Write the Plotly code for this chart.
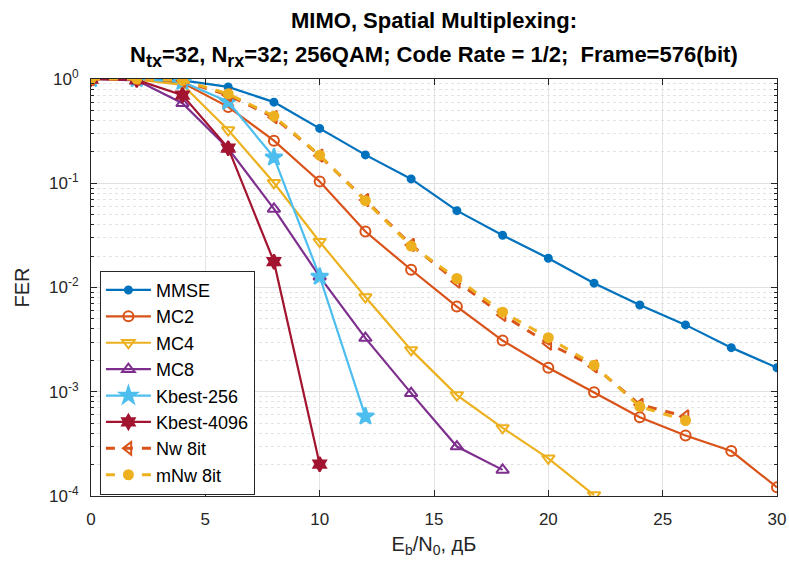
import plotly.graph_objects as go

# Eb/N0 grid, dB
snr = [0, 2, 4, 6, 8, 10, 12, 14, 16, 18, 20, 22, 24, 26, 28, 30]

fer_mmse = [1.0, 1.0, 0.97, 0.84, 0.60, 0.336, 0.187, 0.11, 0.0546, 0.0317,
            0.0191, 0.011, 0.0068, 0.00438, 0.00265, 0.0017]
fer_mc2 = [1.0, 0.99, 0.92, 0.54, 0.256, 0.104, 0.0344, 0.0148, 0.00656, 0.0031,
           0.0017, 0.00099, 0.00057, 0.00038, 0.00027, 0.000121]
fer_mc4 = [1.0, 0.99, 0.88, 0.324, 0.101, 0.0275, 0.0081, 0.00252, 0.00093,
           0.00045, 0.00023, 0.000102]
fer_mc8 = [1.0, 0.97, 0.585, 0.216, 0.0567, 0.0127, 0.00327, 0.00097, 0.000298,
           0.000178]
fer_kbest256 = [1.0, 1.0, 0.94, 0.605, 0.177, 0.0127, 0.00058]
fer_kbest4096 = [1.0, 0.98, 0.70, 0.217, 0.0177, 0.000202]
fer_nw = [1.0, 1.0, 0.96, 0.70, 0.43, 0.184, 0.069, 0.0256, 0.0114, 0.00546,
          0.0029, 0.00175, 0.00075, 0.00058]
fer_mnw = [1.0, 1.0, 0.97, 0.72, 0.44, 0.186, 0.068, 0.025, 0.0122, 0.0058,
           0.0033, 0.0018, 0.00072, 0.00053]

y_tickvals = [1e-4, 1e-3, 1e-2, 1e-1, 1]
y_ticktext = ["10<sup>-4</sup>", "10<sup>-3</sup>", "10<sup>-2</sup>",
              "10<sup>-1</sup>", "10<sup>0</sup>"]
x_tickvals = [0, 5, 10, 15, 20, 25, 30]


def sub(s):
    return '<sub><span style="font-size:18px">' + s + "</span></sub>"


title_line1 = "<b>MIMO, Spatial Multiplexing:</b>"
title_line2 = ("<b>N" + sub("tx") + "=32, N" + sub("rx") + "=32; 256QAM; "
               "Code Rate = 1/2;  Frame=576(bit)</b>")

series = [
    ("MMSE", fer_mmse, "#0072BD", "circle", 7, "solid"),
    ("MC2", fer_mc2, "#D95319", "circle-open", 10, "solid"),
    ("MC4", fer_mc4, "#EDB120", "triangle-down-open", 11, "solid"),
    ("MC8", fer_mc8, "#7E2F8E", "triangle-up-open", 11, "solid"),
    ("Kbest-256", fer_kbest256, "#4DBEEE", "star", 13, "solid"),
    ("Kbest-4096", fer_kbest4096, "#A2142F", "hexagram", 11, "solid"),
    ("Nw 8it", fer_nw, "#D95319", "triangle-left-open", 11, "dash"),
    ("mNw 8it", fer_mnw, "#EDB120", "circle", 9, "dash"),
]

fig = go.Figure()
for name, vals, color, symbol, size, dash in series:
    fig.add_trace(go.Scatter(
        x=snr[:len(vals)], y=vals, name=name, mode="lines+markers",
        line=dict(color=color, width=2.2 if dash == "solid" else 3, dash=dash),
        marker=dict(symbol=symbol, size=size, color=color,
                    line=dict(color=color, width=2)),
    ))

minor_vals = [m * 10 ** e for e in range(-4, 0) for m in range(2, 10)]

fig.add_annotation(text=title_line1, xref="paper", yref="paper",
                   x=0.5, y=1.140, xanchor="center", yanchor="middle",
                   showarrow=False, font=dict(size=22, color="black"))
fig.add_annotation(text=title_line2, xref="paper", yref="paper",
                   x=0.5, y=1.055, xanchor="center", yanchor="middle",
                   showarrow=False, font=dict(size=22, color="black"))

fig.update_layout(
    width=789, height=569,
    margin=dict(l=91, r=12, t=79, b=73, autoexpand=False),
    paper_bgcolor="white", plot_bgcolor="white",
    font=dict(family="Liberation Sans, Arial, sans-serif", color="#262626"),
    xaxis=dict(
        range=[0, 30], tickvals=x_tickvals, automargin=False,
        title=dict(text="E<sub>b</sub>/N<sub>0</sub>, дБ", font=dict(size=20), standoff=8),
        tickfont=dict(size=17), ticklabelstandoff=8,
        showline=True, linecolor="#262626", linewidth=1, mirror="ticks",
        ticks="inside", ticklen=6, tickcolor="#262626",
        showgrid=True, gridcolor="#E3E3E3", gridwidth=1, zeroline=False,
    ),
    yaxis=dict(
        type="log", range=[-4, 0], tickvals=y_tickvals, ticktext=y_ticktext,
        automargin=False,
        title=dict(text="FER", font=dict(size=20), standoff=14),
        tickfont=dict(size=17), ticklabelstandoff=8,
        showline=True, linecolor="#262626", linewidth=1, mirror="ticks",
        ticks="inside", ticklen=6, tickcolor="#262626",
        showgrid=True, gridcolor="#E0E0E0", gridwidth=1, zeroline=False,
        minor=dict(tickvals=minor_vals, ticks="inside", ticklen=3,
                   tickcolor="#262626", showgrid=True, gridcolor="#E3E3E3",
                   griddash="dot", gridwidth=1),
    ),
    legend=dict(
        x=0.013, y=0.003, xanchor="left", yanchor="bottom",
        bgcolor="white", bordercolor="#262626", borderwidth=1,
        font=dict(size=18, color="black"), itemwidth=45,
    ),
    showlegend=True,
)

fig.write_html("out.html")
